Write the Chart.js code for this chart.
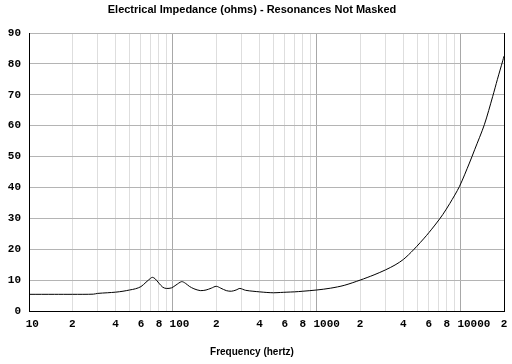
<!DOCTYPE html>
<html>
<head>
<meta charset="utf-8">
<script src="https://cdn.jsdelivr.net/npm/chart.js@4"></script>
<style>
  html, body { margin: 0; padding: 0; background: #fff; }
  canvas { display: block; }
</style>
</head>
<body>
<canvas id="zChart" width="512" height="364"></canvas>
<script>
// frequency in hertz, impedance in ohms
const freq = [10, 15, 20, 28, 30, 35, 40, 45, 50, 55, 60, 65, 70, 72, 75, 80, 85, 90, 98,
  105, 115, 122, 130, 140, 155, 170, 185, 200, 215, 235, 255, 275, 292, 320, 360, 400,
  450, 500, 560, 620, 700, 800, 1000, 1250, 1550, 2000, 2500, 3000, 3500, 4000, 4700,
  5800, 6800, 7500, 8400, 9800, 11500, 12500, 14600, 16700, 18000, 19600, 20000];
const ohms = [5.4, 5.4, 5.4, 5.45, 5.7, 5.9, 6.1, 6.4, 6.8, 7.2, 7.9, 9.3, 10.6, 10.9, 10.5, 9.0, 7.7, 7.3, 7.5,
  8.4, 9.5, 9.0, 8.0, 7.2, 6.6, 6.8, 7.4, 8.0, 7.4, 6.6, 6.4, 6.8, 7.3, 6.7, 6.4, 6.2,
  6.0, 5.9, 6.0, 6.1, 6.2, 6.4, 6.8, 7.4, 8.3, 10.0, 11.7, 13.3, 14.9, 16.7, 19.8,
  24.5, 28.5, 31.2, 34.8, 40.3, 47.9, 52.2, 60.3, 69.5, 75, 81, 82.5];

const xTicks = [10, 20, 30, 40, 50, 60, 70, 80, 90,
  100, 200, 300, 400, 500, 600, 700, 800, 900,
  1000, 2000, 3000, 4000, 5000, 6000, 7000, 8000, 9000,
  10000, 20000];
const yTicks = [0, 10, 20, 30, 40, 50, 60, 70, 80, 90];

const titleText = "Electrical Impedance (ohms) - Resonances Not Masked";
const xTitle = "Frequency (hertz)";

const points = freq.map((f, i) => ({ x: f, y: ohms[i] }));

function isDecade(v) {
  return [10, 100, 1000, 10000].includes(v);
}

// decade labels sit with their leading "1" on the grid line, so pad them on the left
function xLabel(v) {
  if (isDecade(v)) {
    const s = String(v);
    return " ".repeat(s.length - 1) + s;
  }
  const lead = v / Math.pow(10, Math.floor(Math.log10(v) + 1e-9));
  const d = Math.round(lead);
  return (d % 2 === 0) ? String(d) : "";
}

const tickFont = { family: "Liberation Mono", size: 11, weight: "bold" };

new Chart(document.getElementById("zChart"), {
  type: "scatter",
  data: {
    datasets: [{
      data: points,
      showLine: true,
      borderColor: "#000",
      borderWidth: 1,
      pointRadius: 0,
      tension: 0.3
    }]
  },
  options: {
    responsive: false,
    animation: false,
    devicePixelRatio: 1,
    layout: { padding: { left: 0, right: 8, top: 0, bottom: 0 } },
    plugins: {
      legend: { display: false },
      tooltip: { enabled: false },
      title: {
        display: true,
        text: titleText,
        color: "#000",
        font: { family: "Liberation Sans", size: 11, weight: "bold", lineHeight: 1.2 },
        padding: { top: 3, bottom: 16.8 }
      },
      subtitle: {
        display: true,
        position: "bottom",
        text: xTitle,
        color: "#000",
        font: { family: "Liberation Sans", size: 10, weight: "bold", lineHeight: 1.2 },
        padding: { top: 0, bottom: 6 }
      }
    },
    scales: {
      x: {
        type: "logarithmic",
        min: 10,
        max: 20000,
        afterBuildTicks: (scale) => { scale.ticks = xTicks.map(v => ({ value: v })); },
        afterFit: (scale) => {
          scale.height = 35;
          scale.paddingLeft = 0;
          scale.paddingRight = 0;
        },
        ticks: {
          autoSkip: false,
          maxRotation: 0,
          padding: 7,
          color: "#000",
          font: tickFont,
          callback: (v) => xLabel(v)
        },
        grid: {
          drawTicks: false,
          lineWidth: 1,
          color: (ctx) => {
            const v = ctx.tick ? ctx.tick.value : 0;
            if (v === 20000) return "#000";
            return isDecade(v) ? "#a8a8a8" : "#dedede";
          }
        },
        border: { display: true, color: "#000", width: 1 }
      },
      y: {
        min: 0,
        max: 90,
        afterBuildTicks: (scale) => { scale.ticks = yTicks.map(v => ({ value: v })); },
        afterFit: (scale) => { scale.width = 29; },
        ticks: {
          padding: 8,
          color: "#000",
          font: tickFont
        },
        grid: {
          drawTicks: false,
          lineWidth: 1,
          color: (ctx) => (ctx.tick && ctx.tick.value === 0) ? "#000" : "#b4b4b4"
        },
        border: { display: true, color: "#000", width: 1 }
      }
    }
  }
});
</script>
</body>
</html>
